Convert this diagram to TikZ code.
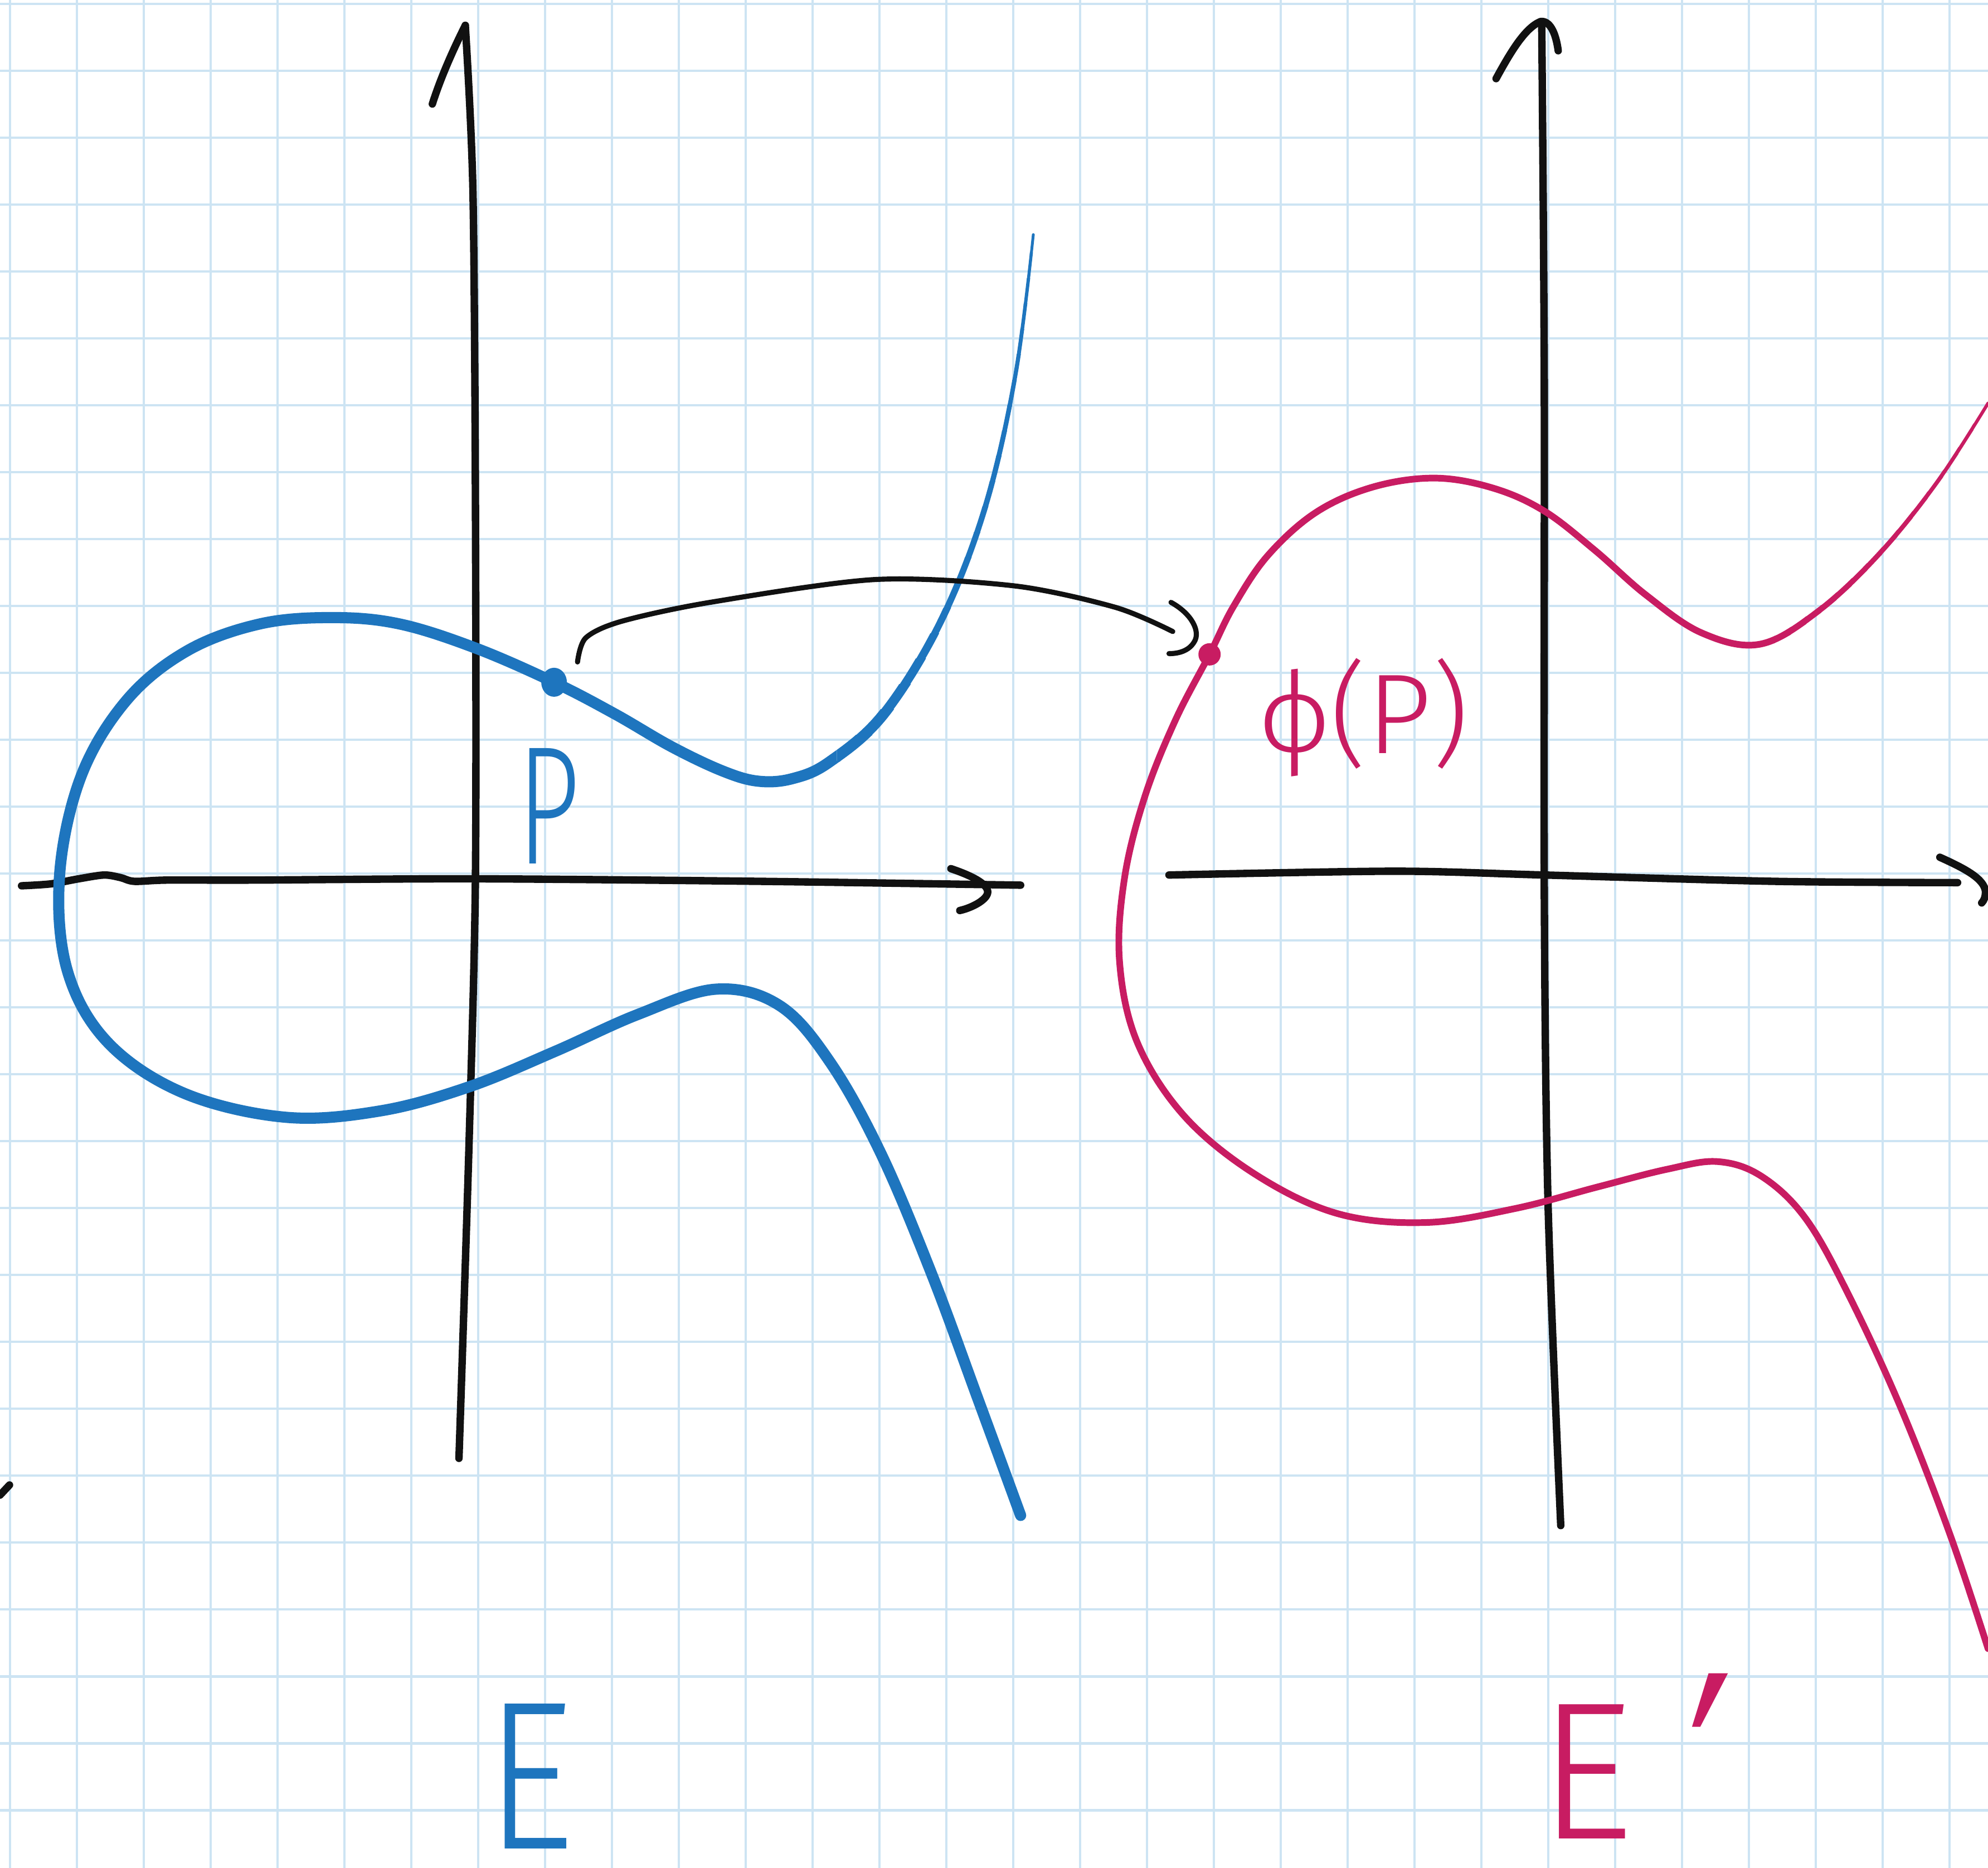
\documentclass[tikz,border=0pt]{standalone}
\usepackage{fontspec}
\usepackage{graphicx}
\setmainfont{DejaVu Sans}
\newfontfamily\handfont{Fira Sans Light}
\newfontfamily\phifont{DejaVu Sans}
\newcommand\hphi{\iffontchar\font"03D5 ϕ\else{\phifont ϕ}\fi}
\newcommand\hprime{\iffontchar\font"2032 ′\else{\phifont ′}\fi}
\definecolor{gridblue}{RGB}{205,228,243}
\definecolor{curveblue}{RGB}{30,117,190}
\definecolor{curvepink}{RGB}{200,28,98}
\definecolor{ink}{RGB}{17,17,17}
\begin{document}
\begin{tikzpicture}[x=0.2275mm,y=-0.2275mm,
  gridline/.style={draw=gridblue,line width=1.4pt},
  axis/.style={draw=ink,line width=3.8pt,line cap=round,line join=round},
  conn/.style={draw=ink,line width=2.6pt,line cap=round,line join=round},
  ecurve/.style={draw=curveblue,line cap=round,line join=round},
  pcurve/.style={draw=curvepink,line cap=round,line join=round},
  lbl/.style={inner sep=0pt,anchor=base west}]
\useasboundingbox (0,0) rectangle (1568,1473);
\fill[white] (0,0) rectangle (1568,1473);
% grid
\foreach \i in {0,...,29}{\draw[gridline] ({7.91+52.75*\i},0) -- ({7.91+52.75*\i},1473);}
\foreach \j in {0,...,27}{\draw[gridline] (0,{3.08+52.75*\j}) -- (1568,{3.08+52.75*\j});}
% axes of E
\draw[axis] (341,82) .. controls (348,60) and (358,38) .. (367,20);
\draw[axis] plot[smooth] coordinates {(367,20) (373,150) (375,400) (375,690) (370,900) (362,1150)};
\draw[axis] plot[smooth] coordinates {(17,698.5) (40,697) (62,693) (82,690) (95,692) (106,695) (132,694) (200,694) (375,693) (600,695) (805,698)};
\draw[axis] (750,685) .. controls (765,690) and (780,697) .. (779,704) .. controls (778,710) and (766,716) .. (757,718);
% axes of E'
\draw[axis] (1180,62) .. controls (1192,40) and (1203,22) .. (1215,17) .. controls (1222,16) and (1227,25) .. (1229,40);
\draw[axis] plot[smooth] coordinates {(1216,18) (1218,300) (1218,700) (1221,950) (1231,1203)};
\draw[axis] plot[smooth] coordinates {(922,690) (1100,687) (1218,690) (1400,695) (1544,696)};
\draw[axis] (1530,676) .. controls (1550,685) and (1565,693) .. (1566,703) .. controls (1566,707) and (1565,710) .. (1563,712);
% stray mark at left edge
\draw[axis] (0,1179) -- (7.5,1171);
% curve E
\def\Epath{plot[smooth,tension=0.6] coordinates {(815,185) (801,295) (777,400) (742,490) (697,563) (654,601) (625,614) (598,616) (570,608) (530,589) (485,563) (437,538) (375,511) (315,492) (262,487) (205,492) (148,513) (100,552) (64,612) (47,690) (53,765) (85,822) (145,862) (225,881) (300,876) (370,857) (438,829) (503,800) (565,780) (615,793) (655,838) (695,910) (735,1005) (772,1105) (805,1195)}}
\begin{scope}
  \clip (0,0) -- (660,0) -- (660,600) -- (1568,600) -- (1568,1473) -- (0,1473) -- cycle;
  \draw[ecurve,line width=5.7pt] \Epath;
\end{scope}
\foreach \k in {0,...,20}{
  \pgfmathsetmacro\ya{180+20*\k}
  \pgfmathsetmacro\yb{\ya+20}
  \pgfmathsetmacro\ym{\ya+10}
  \pgfmathsetmacro\w{\ym<484 ? 1.4+2.0*(\ym-185)/299 : min(5.7,3.4+2.3*(\ym-484)/96)}
  \begin{scope}
    \clip (660,{\ya-0.6}) rectangle (900,{\yb+0.6});
    \draw[ecurve,line width=\w pt] \Epath;
  \end{scope}
}
% curve E'
\def\Fpath{plot[smooth,tension=0.6] coordinates {(1568,318) (1528,380) (1482,437) (1434,482) (1388,508) (1342,499) (1298,469) (1258,434) (1218,403) (1178,385) (1132,377) (1083,384) (1038,404) (1000,438) (973,478) (954,516) (927,568) (903,628) (887,692) (883,758) (897,822) (934,880) (990,926) (1055,957) (1125,964) (1195,953) (1260,936) (1315,922) (1355,916) (1390,928) (1425,962) (1460,1025) (1500,1112) (1538,1210) (1568,1300)}}
\begin{scope}
  \clip (0,0) -- (1400,0) -- (1400,530) -- (1568,530) -- (1568,1473) -- (0,1473) -- cycle;
  \draw[pcurve,line width=3.4pt] \Fpath;
\end{scope}
\foreach \k in {0,...,13}{
  \pgfmathsetmacro\xa{1400+12*\k}
  \pgfmathsetmacro\xb{\xa+12}
  \pgfmathsetmacro\xm{\xa+6}
  \pgfmathsetmacro\w{3.4-1.8*(\xm-1400)/168}
  \begin{scope}
    \clip ({\xa-0.6},0) rectangle ({\xb+0.6},530);
    \draw[pcurve,line width=\w pt] \Fpath;
  \end{scope}
}
% points and connector
\coordinate (P) at (437,538);
\coordinate (phiP) at (954,516);
\coordinate (cstart) at (455.5,522);
\coordinate (cend) at (925,498);
\fill[curveblue] (P) ellipse [x radius=2.3mm, y radius=2.6mm];
\fill[curvepink] (phiP) circle [radius=2mm];
\draw[conn] plot[smooth] coordinates {(cstart) (462,503) (490,490) (560,475) (690,457) (800,462) (880,479) (cend)};
\draw[conn] (923.6,475) .. controls (940,484) and (947,498) .. (942,506) .. controls (938,513) and (930,515.5) .. (922,515.4);
% labels
\node[lbl,text=curveblue,font=\handfont\fontsize{86}{86}\selectfont] (lP) at (408,681) {\scalebox{0.65}[1]{P}};
\node[lbl,text=curvepink,font=\handfont\fontsize{58}{58}\selectfont] (lphi) at (993,594) {\hphi(P)};
\node[lbl,text=curveblue,font=\handfont\fontsize{108}{108}\selectfont] (lE) at (383,1458) {\scalebox{0.82}[1]{E}};
\node[lbl,text=curvepink,font=\handfont\fontsize{100}{100}\selectfont] (lE2) at (1213,1450) {\scalebox{0.95}[1]{E}\hspace{28pt}\raisebox{-25pt}{\scalebox{1}[1.5]{\hprime}}};
\end{tikzpicture}
\end{document}
